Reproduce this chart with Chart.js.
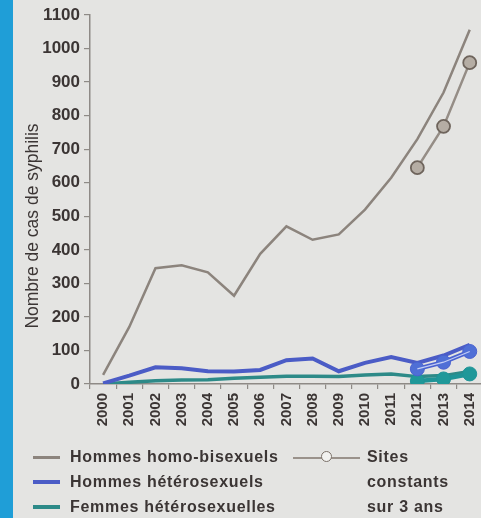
<!DOCTYPE html>
<html>
<head>
<meta charset="utf-8">
<script src="https://cdn.jsdelivr.net/npm/chart.js@4.4.1/dist/chart.umd.min.js"></script>
<style>
  html, body { margin: 0; padding: 0; width: 481px; height: 518px; overflow: hidden; background: #e4e4e2; }
  #strip { position: absolute; left: 0; top: 0; width: 13px; height: 518px; background: #1f9ed7; }
  #wrap { position: absolute; left: 0; top: 0; width: 492px; height: 440px; }
  .leg { position: absolute; font-family: "Liberation Sans", Arial, sans-serif; font-weight: bold; font-size: 16px; color: #3b3534; letter-spacing: 0.7px; white-space: nowrap; line-height: 18px; }
  .sw { position: absolute; height: 3px; }
  #ytitle { position: absolute; left: 32px; top: 226px; transform: translate(-50%, -50%) rotate(-90deg); font-family: "Liberation Sans", Arial, sans-serif; font-size: 17.5px; color: #3b3534; white-space: nowrap; line-height: 20px; }
</style>
</head>
<body>
<div id="strip"></div>
<div id="wrap"><canvas id="c"></canvas></div>
<div id="ytitle">Nombre de cas de syphilis</div>

<div class="sw" style="left:33px;top:456px;width:27px;background:#8c847d;"></div>
<div class="leg" style="left:70px;top:448px;">Hommes homo-bisexuels</div>
<div class="sw" style="left:33px;top:480px;width:27px;height:4px;background:#4b5cc6;"></div>
<div class="leg" style="left:70px;top:473px;">Hommes hétérosexuels</div>
<div class="sw" style="left:33px;top:505px;width:27px;height:4px;background:#2d8a88;"></div>
<div class="leg" style="left:70px;top:498px;">Femmes hétérosexuelles</div>

<div class="sw" style="left:293px;top:457px;width:67px;height:2px;background:#9a928b;"></div>
<div style="position:absolute;left:321px;top:451px;width:11px;height:11px;border-radius:50%;border:1.5px solid #7a7068;background:#f2f2f0;box-sizing:border-box;"></div>
<div class="leg" style="left:367px;top:448px;">Sites</div>
<div class="leg" style="left:367px;top:473px;">constants</div>
<div class="leg" style="left:367px;top:498px;">sur 3 ans</div>

<script>
const years = ["2000","2001","2002","2003","2004","2005","2006","2007","2008","2009","2010","2011","2012","2013","2014"];
const hommesHomoBi = [27, 170, 345, 354, 333, 263, 388, 470, 430, 446, 520, 615, 730, 869, 1056];
const hommesHetero = [2, 25, 50, 47, 38, 37, 42, 71, 76, 38, 63, 80, 63, 85, 117];
const femmesHetero = [0, 5, 10, 12, 13, 17, 20, 23, 23, 22, 27, 30, 22, 25, 37];
const constHomoBi  = [null, null, null, null, null, null, null, null, null, null, null, null, 645, 768, 958];
const constHetero  = [null, null, null, null, null, null, null, null, null, null, null, null, 45, 65, 97];
const constFemmes  = [null, null, null, null, null, null, null, null, null, null, null, null, 9, 15, 30];
const yTicks = [0, 100, 200, 300, 400, 500, 600, 700, 800, 900, 1000, 1100];

const txt = '#3b3534';
const axisCol = '#8e8a86';

new Chart(document.getElementById('c'), {
  type: 'line',
  data: {
    labels: years,
    datasets: [
      { data: hommesHomoBi, borderColor: '#8c847d', borderWidth: 2.5, pointRadius: 0, tension: 0, order: 5 },
      { data: hommesHetero, borderColor: '#4b5cc6', borderWidth: 4, pointRadius: 0, tension: 0, order: 4 },
      { data: femmesHetero, borderColor: '#2d8a88', borderWidth: 3.5, pointRadius: 0, tension: 0, order: 6 },
      { data: constHomoBi, borderColor: '#958d86', borderWidth: 2.5, pointRadius: 6.5, pointBackgroundColor: '#b5ada4', pointBorderColor: '#6e645c', pointBorderWidth: 1.8, tension: 0, order: 1 },
      { data: constHetero, borderColor: '#4a62cf', borderWidth: 4.5, pointRadius: 7, pointBackgroundColor: '#4f6fd6', pointBorderColor: '#4a62cf', pointBorderWidth: 1, tension: 0, order: 2 },
      { data: constHetero, borderColor: 'rgba(215,222,250,0.85)', borderWidth: 1.2, pointRadius: 0, tension: 0, order: 1.5 },
      { data: constFemmes, borderColor: '#1f9497', borderWidth: 4.5, pointRadius: 7, pointBackgroundColor: '#1f9899', pointBorderColor: '#1f9497', pointBorderWidth: 1, tension: 0, order: 3 }
    ]
  },
  options: {
    responsive: true,
    maintainAspectRatio: false,
    animation: false,
    events: [],
    layout: { padding: { left: 13, top: 15, right: 7, bottom: 6 } },
    plugins: { legend: { display: false }, tooltip: { enabled: false } },
    scales: {
      x: {
        type: 'category',
        offset: true,
        afterFit: s => { s.height = 50; },
        border: { color: axisCol, width: 1.5 },
        grid: { display: true, offset: true, drawOnChartArea: false, drawTicks: true, tickLength: 5, color: axisCol, lineWidth: 1.2 },
        ticks: { color: txt, font: { family: 'Liberation Sans', size: 15, weight: 'bold' }, minRotation: 90, maxRotation: 90, autoSkip: false, padding: 4 }
      },
      y: {
        min: 0, max: 1100,
        afterFit: s => { s.width = 77; },
        afterBuildTicks: s => { s.ticks = yTicks.map(v => ({ value: v })); },
        border: { color: axisCol, width: 1.5 },
        grid: { display: true, drawOnChartArea: false, drawTicks: true, tickLength: 6, color: axisCol, lineWidth: 1.2 },
        ticks: { color: txt, font: { family: 'Liberation Sans', size: 17, weight: 'bold' }, padding: 4, callback: v => String(v) }
      }
    }
  }
});
</script>
</body>
</html>
